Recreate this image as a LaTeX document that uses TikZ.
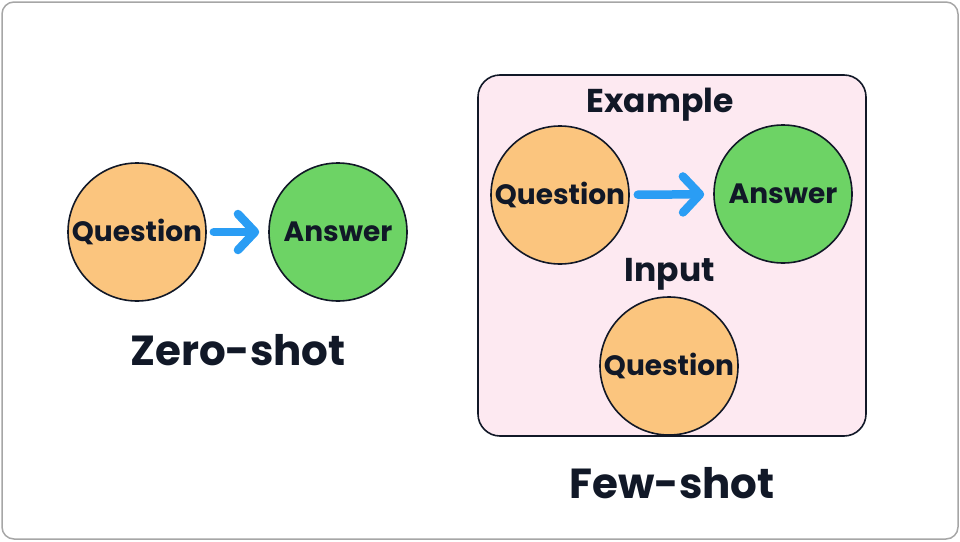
\documentclass[tikz,border=0pt]{standalone}
\usepackage{fontspec}
\setmainfont{Poppins}
\usetikzlibrary{positioning, arrows.meta}

\definecolor{qorange}{HTML}{FBC57E}
\definecolor{agreen}{HTML}{6DD365}
\definecolor{arrowblue}{HTML}{2A9DF4}
\definecolor{boxpink}{HTML}{FDE9F1}
\definecolor{inkdark}{HTML}{111827}

\begin{document}
\begin{tikzpicture}[
    x=1pt, y=-1pt,
    circ/.style={draw=inkdark, circle, line width=1.6pt, minimum size=138pt, inner sep=0pt, text=inkdark, font=\fontsize{28}{32}\selectfont\bfseries},
    question/.style={circ, fill=qorange},
    answer/.style={circ, fill=agreen},
    flow/.style={draw=arrowblue, line width=8.5pt, line cap=round, -{Straight Barb[round, length=17pt, width=36pt]}},
    title/.style={text=inkdark, font=\fontsize{42}{46}\selectfont\bfseries},
    heading/.style={text=inkdark, font=\fontsize{33}{38}\selectfont\bfseries}
]
\useasboundingbox (0,0) rectangle (960,541);

% outer frame
\draw[gray!70, line width=1.5pt, rounded corners=12pt] (2,2) rectangle (958,539);

% ================= Zero-shot =================

\node[question] (zq) at (137,232) {Question};
\node[answer] (za) at (338,232) {Answer};
\node[title] (zlabel) at (238,350) {Zero-shot};

\draw[flow, shorten <=7pt, shorten >=9pt] (zq) -- (za);

% ================= Few-shot =================

\node[draw=inkdark, fill=boxpink, line width=1.6pt, rounded corners=22pt, minimum width=388pt, minimum height=361pt] (fewbox) at (672,255.5) {};

\node[heading] (example) at (660,105) {Example};
\node[question] (fq) at (560,195) {Question};
\node[answer] (fa) at (783,194) {Answer};
\node[heading] (input) at (670,274) {Input};
\node[question] (iq) at (669,366) {Question};
\node[title] (flabel) at (672,483) {Few-shot};

\draw[flow, shorten <=8pt, shorten >=9pt] (fq) -- (fa);

\end{tikzpicture}
\end{document}
